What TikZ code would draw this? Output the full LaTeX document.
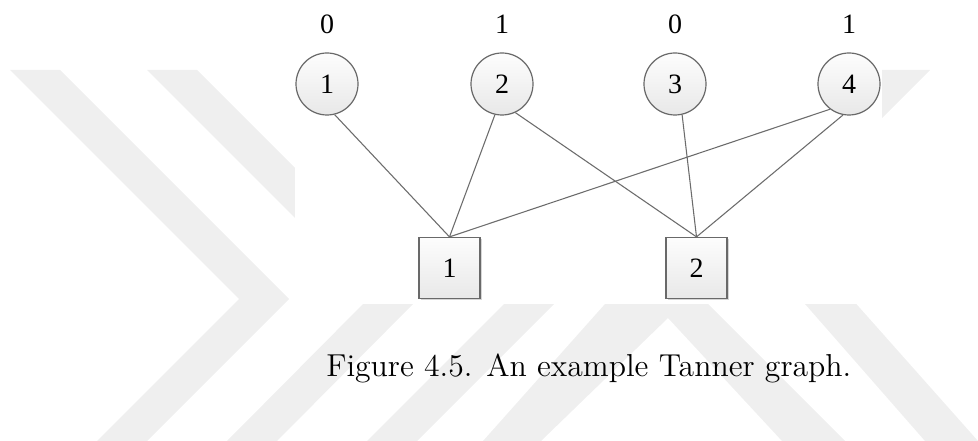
\documentclass[tikz,border=0pt]{standalone}
\usepackage{fontspec}
\newfontfamily\diagfont{Liberation Serif}
\usetikzlibrary{shadows}
\definecolor{wmgray}{RGB}{239,239,239}
\definecolor{edgegray}{RGB}{108,108,108}
\definecolor{rimgray}{RGB}{105,105,105}
\definecolor{fillhi}{RGB}{253,253,253}
\definecolor{filllo}{RGB}{232,232,232}
\begin{document}
\begin{tikzpicture}[x=0.75pt,y=-0.75pt,
  digits/.style={font=\diagfont\fontsize{21}{25}\selectfont},
  bitnode/.style={circle, draw=rimgray, line width=0.9pt, minimum size=46.5pt,
    inner sep=0pt, top color=fillhi, bottom color=filllo, digits},
  checknode/.style={rectangle, draw=rimgray, line width=0.9pt, minimum size=45.75pt,
    inner sep=0pt, top color=fillhi, bottom color=filllo,
    drop shadow={shadow xshift=1.3pt, shadow yshift=-1.3pt, opacity=0.35, fill=black!45},
    digits},
  bitval/.style={inner sep=0pt, digits},
  link/.style={draw=edgegray, line width=0.8pt},
  wmshape/.style={fill=wmgray, draw=none}]

\useasboundingbox (0,0) rectangle (978,441);

% background chevrons
\fill[wmshape] (10,70) -- (60,70) -- (289,299) -- (147,441) -- (97,441) -- (239,299) -- cycle;
\fill[wmshape] (147,70) -- (197,70) -- (422,295) -- (277,441) -- (227,441) -- (372,295) -- cycle;
\fill[wmshape] (528,280) -- (578,280) -- (417,441) -- (367,441) -- cycle;
\fill[wmshape] (483,441) -- (605,304) -- (605,280) -- (708,280) -- (708,304) -- (845,441)
  -- (782,441) -- (668,318) -- (541,441) -- cycle;
\fill[wmshape] (785,280) -- (835,280) -- (978,441) -- (925,441) -- (805,304) -- cycle;
\fill[wmshape] (850,70) -- (930,70) -- (850,150) -- cycle;
% white panel behind the graph
\fill[white] (295,0) rectangle (882,304);

% variable nodes
\node[bitnode] (c1) at (327,84) {1};
\node[bitnode] (c2) at (502,84) {2};
\node[bitnode] (c3) at (675,84) {3};
\node[bitnode] (c4) at (849,84) {4};

% bit values
\node[bitval] (b1) at (327,24) {0};
\node[bitval] (b2) at (502,24) {1};
\node[bitval] (b3) at (675,24) {0};
\node[bitval] (b4) at (849,24) {1};

% check nodes
\node[checknode] (s1) at (449.5,268) {1};
\node[checknode] (s2) at (696.5,268) {2};

% edges
\draw[link] (c1.-76) -- (s1.north);
\draw[link] (c2.-103) -- (s1.north);
\draw[link] (c2.-65) -- (s2.north);
\draw[link] (c3.-77) -- (s2.north);
\draw[link] (c4.-127) -- (s1.north);
\draw[link] (c4.-101) -- (s2.north);

% caption
\node[anchor=base west, inner sep=0pt] (cap) at (326,377)
  {\resizebox{393.75pt}{!}{\fontsize{12}{14}\selectfont Figure 4.5.  An example Tanner graph.}};
\end{tikzpicture}
\end{document}
